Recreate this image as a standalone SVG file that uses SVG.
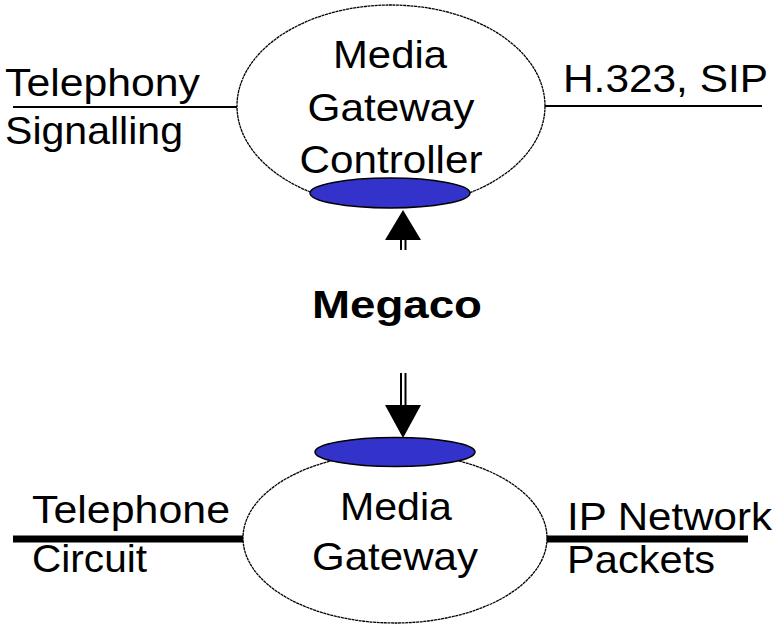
<svg xmlns="http://www.w3.org/2000/svg" width="774" height="625" viewBox="0 0 774 625">
<style>
text{font-family:"Liberation Sans",Arial,sans-serif;font-size:39px;fill:#000}
.c{text-anchor:middle}
.b{font-weight:bold}
.big{fill:#fff;stroke:#000;stroke-width:1.3;stroke-dasharray:3 0.6}
.port{fill:#3333cc;stroke:#000;stroke-width:1.5}
.thin{stroke:#000;stroke-width:2;fill:none}
.thick{stroke:#000;stroke-width:7;fill:none}
.shaft{stroke:#000;stroke-width:2;fill:none}
</style>
<rect width="774" height="625" fill="#fff"/>
<g id="connectors">
<line class="thin" x1="13" y1="107" x2="237" y2="107"/>
<line class="thin" x1="545" y1="106" x2="762" y2="106"/>
<line class="thick" x1="13" y1="539" x2="243" y2="539"/>
<line class="thick" x1="547" y1="539" x2="748" y2="539"/>
<line class="shaft" x1="401" y1="238" x2="401" y2="250"/>
<line class="shaft" x1="405.5" y1="238" x2="405.5" y2="250"/>
<polygon points="403,210 385,240 421,240" fill="#000"/>
<line class="shaft" x1="401" y1="373" x2="401" y2="407"/>
<line class="shaft" x1="405.5" y1="373" x2="405.5" y2="407"/>
<polygon points="385,405 421,405 403,438" fill="#000"/>
</g>
<g id="mgc">
<ellipse class="big" cx="391" cy="106" rx="154" ry="101"/>
<ellipse class="port" cx="390" cy="193" rx="80" ry="15"/>
<text class="c" x="390" y="68" textLength="114" lengthAdjust="spacingAndGlyphs">Media</text>
<text class="c" x="391" y="121" textLength="167" lengthAdjust="spacingAndGlyphs">Gateway</text>
<text class="c" x="391" y="173" textLength="183" lengthAdjust="spacingAndGlyphs">Controller</text>
</g>
<g id="mg">
<ellipse class="big" cx="395" cy="538" rx="152" ry="85"/>
<ellipse class="port" cx="395" cy="452" rx="80" ry="14.5"/>
<text class="c" x="396" y="520" textLength="112" lengthAdjust="spacingAndGlyphs">Media</text>
<text class="c" x="395" y="570" textLength="166" lengthAdjust="spacingAndGlyphs">Gateway</text>
</g>
<g id="labels">
<text x="5" y="96" textLength="195" lengthAdjust="spacingAndGlyphs">Telephony</text>
<text x="5" y="144" textLength="178" lengthAdjust="spacingAndGlyphs">Signalling</text>
<text x="563" y="92" textLength="205" lengthAdjust="spacingAndGlyphs">H.323, SIP</text>
<text class="b" x="312" y="318" textLength="170" lengthAdjust="spacingAndGlyphs">Megaco</text>
<text x="32" y="523" textLength="198" lengthAdjust="spacingAndGlyphs">Telephone</text>
<text x="32" y="572" textLength="115" lengthAdjust="spacingAndGlyphs">Circuit</text>
<text x="567" y="530" textLength="205" lengthAdjust="spacingAndGlyphs">IP Network</text>
<text x="567" y="573" textLength="148" lengthAdjust="spacingAndGlyphs">Packets</text>
</g>
</svg>
